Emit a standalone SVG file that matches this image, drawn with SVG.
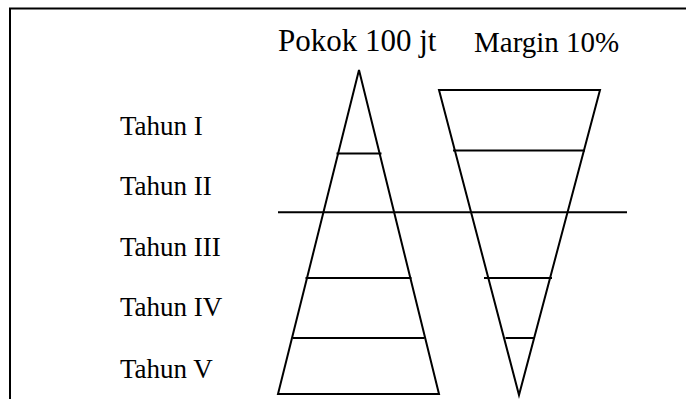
<svg xmlns="http://www.w3.org/2000/svg" width="686" height="399" viewBox="0 0 686 399">
<style>
.t{font-family:"Liberation Serif","Times New Roman",serif;fill:#000}
.l{stroke:#000;stroke-width:2;fill:none}
</style>
<rect width="686" height="399" fill="#fff"/>
<g id="frame"><polyline class="l" points="10,399 10,8.5 686,8.5"/></g>
<g id="labels">
<text class="t" x="278" y="51" font-size="31">Pokok 100 jt</text>
<text class="t" x="474" y="52" font-size="29">Margin 10%</text>
<text class="t" x="120" y="135" font-size="27">Tahun I</text>
<text class="t" x="120" y="195" font-size="27">Tahun II</text>
<text class="t" x="120" y="256" font-size="27">Tahun III</text>
<text class="t" x="120" y="316" font-size="27">Tahun IV</text>
<text class="t" x="120" y="378" font-size="27">Tahun V</text>
</g>
<g id="pokok">
<polygon class="l" points="359,70 278,394 439,394"/>
<line class="l" x1="336.5" y1="153.5" x2="381.5" y2="153.5"/>
<line class="l" x1="305.5" y1="278" x2="411.5" y2="278"/>
<line class="l" x1="293" y1="338" x2="424.5" y2="338"/>
</g>
<g id="margin">
<polygon class="l" points="439,90 600,90 519,395"/>
<line class="l" x1="453" y1="150.5" x2="585" y2="150.5"/>
<line class="l" x1="484" y1="278" x2="552" y2="278"/>
<line class="l" x1="505.5" y1="338" x2="534" y2="338"/>
</g>
<g id="connectors">
<line class="l" x1="278" y1="212.3" x2="627" y2="212.3"/>
</g>
</svg>
